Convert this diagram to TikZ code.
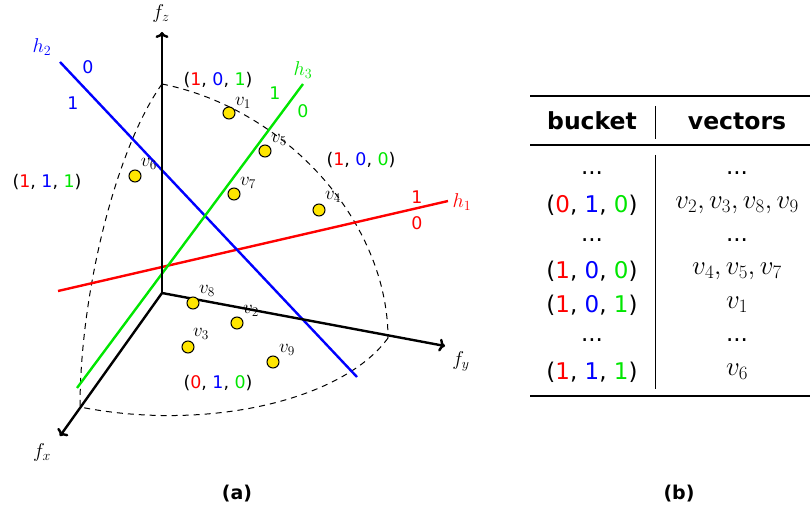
\RequirePackage{fix-cm}
\documentclass[tikz,border=0pt]{standalone}
\usepackage[no-math]{fontspec}
\setmainfont{DejaVu Sans}
\usetikzlibrary{arrows.meta}
\definecolor{hred}{RGB}{255,0,0}
\definecolor{hblue}{RGB}{0,0,255}
\definecolor{hgreen}{RGB}{0,230,0}
\definecolor{ptyellow}{RGB}{255,230,0}
\newcommand{\bkt}[3]{(\textcolor{hred}{#1}, \textcolor{hblue}{#2}, \textcolor{hgreen}{#3})}
\begin{document}
\begin{tikzpicture}[x=1pt,y=-1pt,
  axis/.style={line width=2.4pt,-{To[length=6pt,width=13pt]}},
  hyper/.style={line width=2.4pt},
  arcline/.style={line width=1pt,dash pattern=on 6pt off 5pt},
  pt/.style={circle,draw=black,line width=1pt,fill=ptyellow,minimum size=12pt,inner sep=0pt},
  vlab/.style={font=\fontsize{19}{22}\selectfont,inner sep=0pt},
  blab/.style={font=\fontsize{17.4}{20}\selectfont,inner sep=0pt},
  hlab/.style={font=\fontsize{20}{22}\selectfont,inner sep=0pt},
  tab/.style={font=\fontsize{23}{27}\selectfont,inner sep=0pt},
  tabm/.style={font=\fontsize{27}{30}\selectfont,inner sep=0pt},
  captxt/.style={font=\fontsize{19}{22}\selectfont\bfseries,inner sep=0pt},
  rulethick/.style={line width=2.4pt},
  rulethin/.style={line width=1.4pt},
  vrule/.style={line width=1pt}]
\useasboundingbox (0,0) rectangle (810,513);
% axes
\coordinate (O) at (162,293);
\coordinate (Z) at (162,32);
\coordinate (Y) at (445,346);
\coordinate (X) at (60,436);
% dashed quarter-sphere arcs
\draw[arcline] plot[domain=0:90,samples=60,smooth] ({162+226*sin(\x)},{293-209*cos(\x)+45*sin(\x)});
\draw[arcline] plot[domain=0:90,samples=60,smooth] ({162+226*cos(\x)-82*sin(\x)},{293+45*cos(\x)+114*sin(\x)});
\draw[arcline] plot[domain=0:90,samples=60,smooth] ({162-82*sin(\x)},{293-209*cos(\x)+114*sin(\x)});
% hyperplanes
\coordinate (h1a) at (58,291);
\coordinate (h1b) at (448,201);
\coordinate (h2a) at (60,62);
\coordinate (h2b) at (357,377);
\coordinate (h3a) at (303,84);
\coordinate (h3b) at (77,388);
\draw[hyper,hred] (h1a) -- (h1b);
\draw[hyper,hblue] (h2a) -- (h2b);
\draw[hyper,hgreen] (h3a) -- (h3b);
\draw[axis] (O) -- (Z);
\draw[axis] (O) -- (Y);
\draw[axis] (O) -- (X);
\node[hlab] (fz) at (161,14) {$f_z$};
\node[hlab] (fy) at (461,361) {$f_y$};
\node[hlab] (fx) at (42,452) {$f_x$};
% hyperplane labels
\node[hlab,text=hblue] (h2l) at (42,47) {$h_2$};
\node[blab,text=hblue] (h2z) at (88,67) {0};
\node[blab,text=hblue] (h2o) at (73,103) {1};
\node[hlab,text=hgreen] (h3l) at (303,70) {$h_3$};
\node[blab,text=hgreen] (h3o) at (275,93) {1};
\node[blab,text=hgreen] (h3z) at (303,111) {0};
\node[hlab,text=hred] (h1l) at (462,202) {$h_1$};
\node[blab,text=hred] (h1o) at (417,197) {1};
\node[blab,text=hred] (h1z) at (417,223) {0};
% bucket labels
\node[blab] (b101) at (218,80) {\bkt{1}{0}{1}};
\node[blab] (b100) at (361,160) {\bkt{1}{0}{0}};
\node[blab] (b111) at (47,182) {\bkt{1}{1}{1}};
\node[blab] (b010) at (218,383) {\bkt{0}{1}{0}};
% points
\node[pt] (v1) at (229,113) {};
\node[pt] (v5) at (265,151) {};
\node[pt] (v6) at (135,176) {};
\node[pt] (v7) at (234,194) {};
\node[pt] (v4) at (319,210) {};
\node[pt] (v8) at (193,303) {};
\node[pt] (v2) at (237,323) {};
\node[pt] (v3) at (188,347) {};
\node[pt] (v9) at (273,362) {};
\node[vlab] (l1) at (243,103) {$v_1$};
\node[vlab] (l5) at (279,140) {$v_5$};
\node[vlab] (l6) at (149,164) {$v_6$};
\node[vlab] (l7) at (248,183) {$v_7$};
\node[vlab] (l4) at (333,197) {$v_4$};
\node[vlab] (l8) at (207,291) {$v_8$};
\node[vlab] (l2) at (251,311) {$v_2$};
\node[vlab] (l3) at (201,334) {$v_3$};
\node[vlab] (l9) at (287,350) {$v_9$};
% captions
\node[captxt] (capa) at (237,494) {(a)};
\node[captxt] (capb) at (679,494) {(b)};
% table
\coordinate (tl) at (530,96);
\coordinate (tr) at (810,96);
\coordinate (ml) at (530,145);
\coordinate (mr) at (810,145);
\coordinate (bl) at (530,396);
\coordinate (br) at (810,396);
\coordinate (vh1) at (655,106);
\coordinate (vh2) at (655,139);
\coordinate (vb1) at (655,155);
\coordinate (vb2) at (655,389);
\draw[rulethick] (tl) -- (tr);
\draw[rulethin] (ml) -- (mr);
\draw[rulethick] (bl) -- (br);
\draw[vrule] (vh1) -- (vh2);
\draw[vrule] (vb1) -- (vb2);
\node[tab,font=\fontsize{23.5}{27}\selectfont\bfseries] (hb) at (592,121) {bucket};
\node[tab,font=\fontsize{23.5}{27}\selectfont\bfseries] (hv) at (737,121) {vectors};
\node[tab] (r1a) at (592,173) {...};
\node[tab] (r1b) at (737,173) {...};
\node[tab] (r2a) at (592,205) {\bkt{0}{1}{0}};
\node[tabm] (r2b) at (737,205) {$v_2,v_3,v_8,v_9$};
\node[tab] (r3a) at (592,240) {...};
\node[tab] (r3b) at (737,240) {...};
\node[tab] (r4a) at (592,271) {\bkt{1}{0}{0}};
\node[tabm] (r4b) at (737,271) {$v_4,v_5,v_7$};
\node[tab] (r5a) at (592,305) {\bkt{1}{0}{1}};
\node[tabm] (r5b) at (737,305) {$v_1$};
\node[tab] (r6a) at (592,340) {...};
\node[tab] (r6b) at (737,340) {...};
\node[tab] (r7a) at (592,372) {\bkt{1}{1}{1}};
\node[tabm] (r7b) at (737,372) {$v_6$};
\end{tikzpicture}
\end{document}
